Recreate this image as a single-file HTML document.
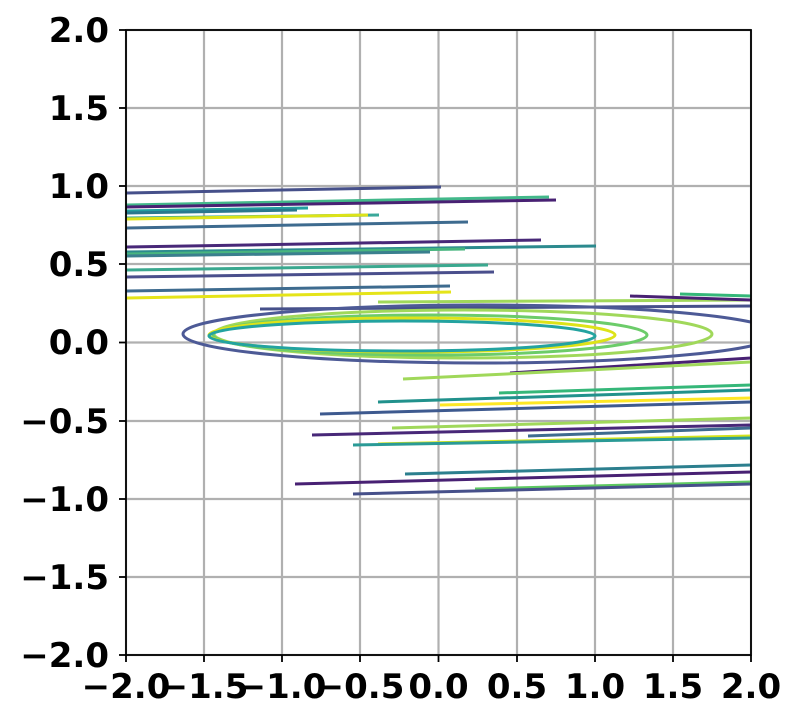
<!DOCTYPE html>
<html><head><meta charset="utf-8"><style>
html,body{margin:0;padding:0;background:#fff;}
svg text{font-family:"DejaVu Sans","Liberation Sans",sans-serif;font-weight:bold;font-size:34px;fill:#000;}
</style></head><body>
<svg width="800" height="722" viewBox="0 0 800 722" xmlns="http://www.w3.org/2000/svg">
<defs><clipPath id="c"><rect x="126" y="30" width="625" height="625"/></clipPath></defs>
<g stroke="#b0b0b0" stroke-width="2.2">
<line x1="126" y1="30" x2="126" y2="655"/><line x1="204" y1="30" x2="204" y2="655"/><line x1="282" y1="30" x2="282" y2="655"/><line x1="360" y1="30" x2="360" y2="655"/><line x1="438.5" y1="30" x2="438.5" y2="655"/><line x1="517" y1="30" x2="517" y2="655"/><line x1="595" y1="30" x2="595" y2="655"/><line x1="673" y1="30" x2="673" y2="655"/><line x1="751" y1="30" x2="751" y2="655"/>
<line x1="126" y1="30" x2="751" y2="30"/><line x1="126" y1="108" x2="751" y2="108"/><line x1="126" y1="186" x2="751" y2="186"/><line x1="126" y1="264" x2="751" y2="264"/><line x1="126" y1="342.5" x2="751" y2="342.5"/><line x1="126" y1="421" x2="751" y2="421"/><line x1="126" y1="499" x2="751" y2="499"/><line x1="126" y1="577" x2="751" y2="577"/><line x1="126" y1="655" x2="751" y2="655"/>
</g>
<g clip-path="url(#c)" fill="none" stroke-width="3">
<line x1="126" y1="193" x2="441" y2="187" stroke="#46508a"/>
<line x1="126" y1="205" x2="549" y2="197" stroke="#42b88a"/>
<line x1="126" y1="207" x2="556" y2="200" stroke="#482173"/>
<line x1="126" y1="211" x2="308" y2="208" stroke="#21a0a0"/>
<line x1="126" y1="213" x2="297" y2="210" stroke="#2a788e"/>
<line x1="126" y1="218" x2="379" y2="215" stroke="#3aa89a"/>
<line x1="126" y1="219" x2="368" y2="215" stroke="#dde318"/>
<line x1="126" y1="228" x2="468" y2="222" stroke="#3e6b8f"/>
<line x1="126" y1="247" x2="541" y2="240" stroke="#482878"/>
<line x1="126" y1="252" x2="596" y2="246" stroke="#2c8a8e"/>
<line x1="126" y1="254" x2="465" y2="249" stroke="#48b57f"/>
<line x1="126" y1="256" x2="430" y2="252" stroke="#3a7f8e"/>
<line x1="126" y1="270" x2="488" y2="265" stroke="#3aa88f"/>
<line x1="126" y1="277" x2="494" y2="272" stroke="#4a4f8c"/>
<line x1="126" y1="291" x2="450" y2="286" stroke="#3e6b8f"/>
<line x1="126" y1="298" x2="451" y2="292" stroke="#e5e419"/>
<line x1="260" y1="309" x2="751" y2="306" stroke="#46508a"/>
<line x1="378" y1="302" x2="751" y2="300" stroke="#a0d85a"/>
<ellipse cx="480" cy="334" rx="297" ry="29" stroke="#4d5a96"/>
<ellipse cx="463" cy="334" rx="249" ry="24" stroke="#a0d85a"/>
<ellipse cx="430" cy="335" rx="217" ry="20" stroke="#6ccc6a"/>
<ellipse cx="412" cy="335" rx="203" ry="17" stroke="#dde318"/>
<ellipse cx="402" cy="336" rx="193" ry="15" stroke="#23a3a0"/>
<line x1="630" y1="296" x2="751" y2="300" stroke="#482173"/>
<line x1="680" y1="294" x2="751" y2="296" stroke="#35b779"/>
<line x1="510" y1="373" x2="751" y2="358" stroke="#482173"/>
<line x1="403" y1="379" x2="751" y2="362" stroke="#a0d85a"/>
<line x1="499" y1="393" x2="751" y2="385" stroke="#35b779"/>
<line x1="378" y1="402" x2="751" y2="390" stroke="#21918c"/>
<line x1="440" y1="405" x2="751" y2="398" stroke="#fde725"/>
<line x1="320" y1="414" x2="751" y2="402" stroke="#3e5a8f"/>
<line x1="392" y1="428" x2="751" y2="418" stroke="#a0d85a"/>
<line x1="312" y1="435" x2="751" y2="425" stroke="#482878"/>
<line x1="528" y1="436" x2="751" y2="428" stroke="#3e6b8f"/>
<line x1="378" y1="444" x2="751" y2="436" stroke="#d2e21b"/>
<line x1="353" y1="445" x2="751" y2="438" stroke="#2a9a96"/>
<line x1="405" y1="474" x2="751" y2="465" stroke="#2c7f8e"/>
<line x1="295" y1="484" x2="751" y2="472" stroke="#482173"/>
<line x1="475" y1="489" x2="751" y2="482" stroke="#5ec962"/>
<line x1="353" y1="494" x2="751" y2="484" stroke="#46508a"/>
</g>
<rect x="126" y="30" width="625" height="625" fill="none" stroke="#000" stroke-width="1.8"/>
<g stroke="#000" stroke-width="1.8">
<line x1="119" y1="30" x2="126" y2="30"/><line x1="119" y1="108" x2="126" y2="108"/><line x1="119" y1="186" x2="126" y2="186"/><line x1="119" y1="264" x2="126" y2="264"/><line x1="119" y1="342.5" x2="126" y2="342.5"/><line x1="119" y1="421" x2="126" y2="421"/><line x1="119" y1="499" x2="126" y2="499"/><line x1="119" y1="577" x2="126" y2="577"/><line x1="119" y1="655" x2="126" y2="655"/>
<line x1="126" y1="655" x2="126" y2="662"/><line x1="204" y1="655" x2="204" y2="662"/><line x1="282" y1="655" x2="282" y2="662"/><line x1="360" y1="655" x2="360" y2="662"/><line x1="438.5" y1="655" x2="438.5" y2="662"/><line x1="517" y1="655" x2="517" y2="662"/><line x1="595" y1="655" x2="595" y2="662"/><line x1="673" y1="655" x2="673" y2="662"/><line x1="751" y1="655" x2="751" y2="662"/>
</g>
<g text-anchor="end">
<text x="109" y="42">2.0</text><text x="109" y="120">1.5</text><text x="109" y="198">1.0</text><text x="109" y="276">0.5</text><text x="109" y="354">0.0</text><text x="109" y="433">−0.5</text><text x="109" y="511">−1.0</text><text x="109" y="589">−1.5</text><text x="109" y="667">−2.0</text>
</g>
<g text-anchor="middle">
<text x="126" y="698">−2.0</text><text x="204" y="698">−1.5</text><text x="282" y="698">−1.0</text><text x="360" y="698">−0.5</text><text x="438.5" y="698">0.0</text><text x="517" y="698">0.5</text><text x="595" y="698">1.0</text><text x="673" y="698">1.5</text><text x="751" y="698">2.0</text>
</g>
</svg>
</body></html>
